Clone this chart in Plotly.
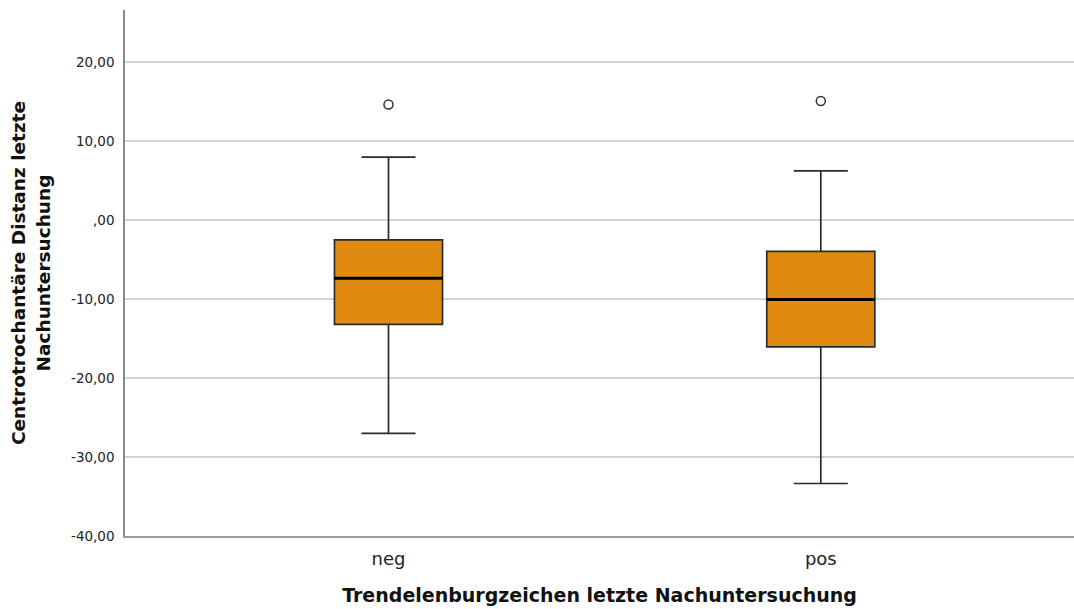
import plotly.graph_objects as go

categories = ["neg", "pos"]
q1 = [-13.2, -16.05]
median = [-7.35, -10.05]
q3 = [-2.5, -3.95]
lower_whisker = [-27.0, -33.35]
upper_whisker = [8.0, 6.25]
outliers = [14.65, 15.1]

y_ticks = [20, 10, 0, -10, -20, -30, -40]
y_ticktext = ["20,00", "10,00", ",00", "-10,00", "-20,00", "-30,00", "-40,00"]

box_width = 0.25
pos = list(range(len(categories)))

fig = go.Figure()
for i, c in enumerate(categories):
    fig.add_trace(go.Box(
        x=[pos[i]], q1=[q1[i]], median=[median[i]], q3=[q3[i]],
        lowerfence=[lower_whisker[i]], upperfence=[upper_whisker[i]],
        width=box_width, whiskerwidth=0.5, boxpoints=False,
        fillcolor="#E08A12", line=dict(color="#2b2b2b", width=1.7),
        showlegend=False, name=c, hoverinfo="skip",
    ))
    fig.add_trace(go.Scatter(
        x=[pos[i] - box_width / 2, pos[i] + box_width / 2],
        y=[median[i], median[i]], mode="lines",
        line=dict(color="#000000", width=3), showlegend=False, hoverinfo="skip",
    ))

fig.add_trace(go.Scatter(
    x=pos, y=outliers, mode="markers",
    marker=dict(symbol="circle-open", size=9, color="#333333", line=dict(width=1.5)),
    showlegend=False, hoverinfo="skip",
))

fig.update_layout(
    width=1074, height=609,
    margin=dict(l=125, r=0, t=10, b=73),
    plot_bgcolor="white", paper_bgcolor="white",
    font=dict(family="DejaVu Sans", color="#222222"),
)
fig.update_xaxes(
    range=[-0.6095, 1.5857], tickvals=pos, ticktext=categories,
    showgrid=False, zeroline=False, showline=True, linecolor="#9a9a9a", linewidth=2,
    tickfont=dict(size=18, family="DejaVu Sans", color="#222222"),
    ticks="outside", ticklen=5, tickcolor="rgba(0,0,0,0)",
    title=dict(text="<b>Trendelenburgzeichen letzte Nachuntersuchung</b>",
               font=dict(size=19, family="DejaVu Sans", color="#111111"), standoff=21),
)
fig.update_yaxes(
    range=[-40, 26.63], tickvals=y_ticks, ticktext=y_ticktext,
    showgrid=True, gridcolor="#d2d2d2", gridwidth=1.5,
    zeroline=False, showline=True, linecolor="#8a8a8a", linewidth=1.5,
    tickfont=dict(size=13.5, family="DejaVu Sans", color="#222222"),
    ticks="outside", ticklen=6, tickcolor="rgba(0,0,0,0)",
    title=dict(text="<b>Centrotrochantäre Distanz letzte<br>Nachuntersuchung</b>",
               font=dict(size=18.5, family="DejaVu Sans", color="#111111"), standoff=16),
)

fig.write_html(
    "out.html",
    config={"displayModeBar": False},
    post_script="document.body.style.margin='0';document.body.style.overflow='hidden';",
)
